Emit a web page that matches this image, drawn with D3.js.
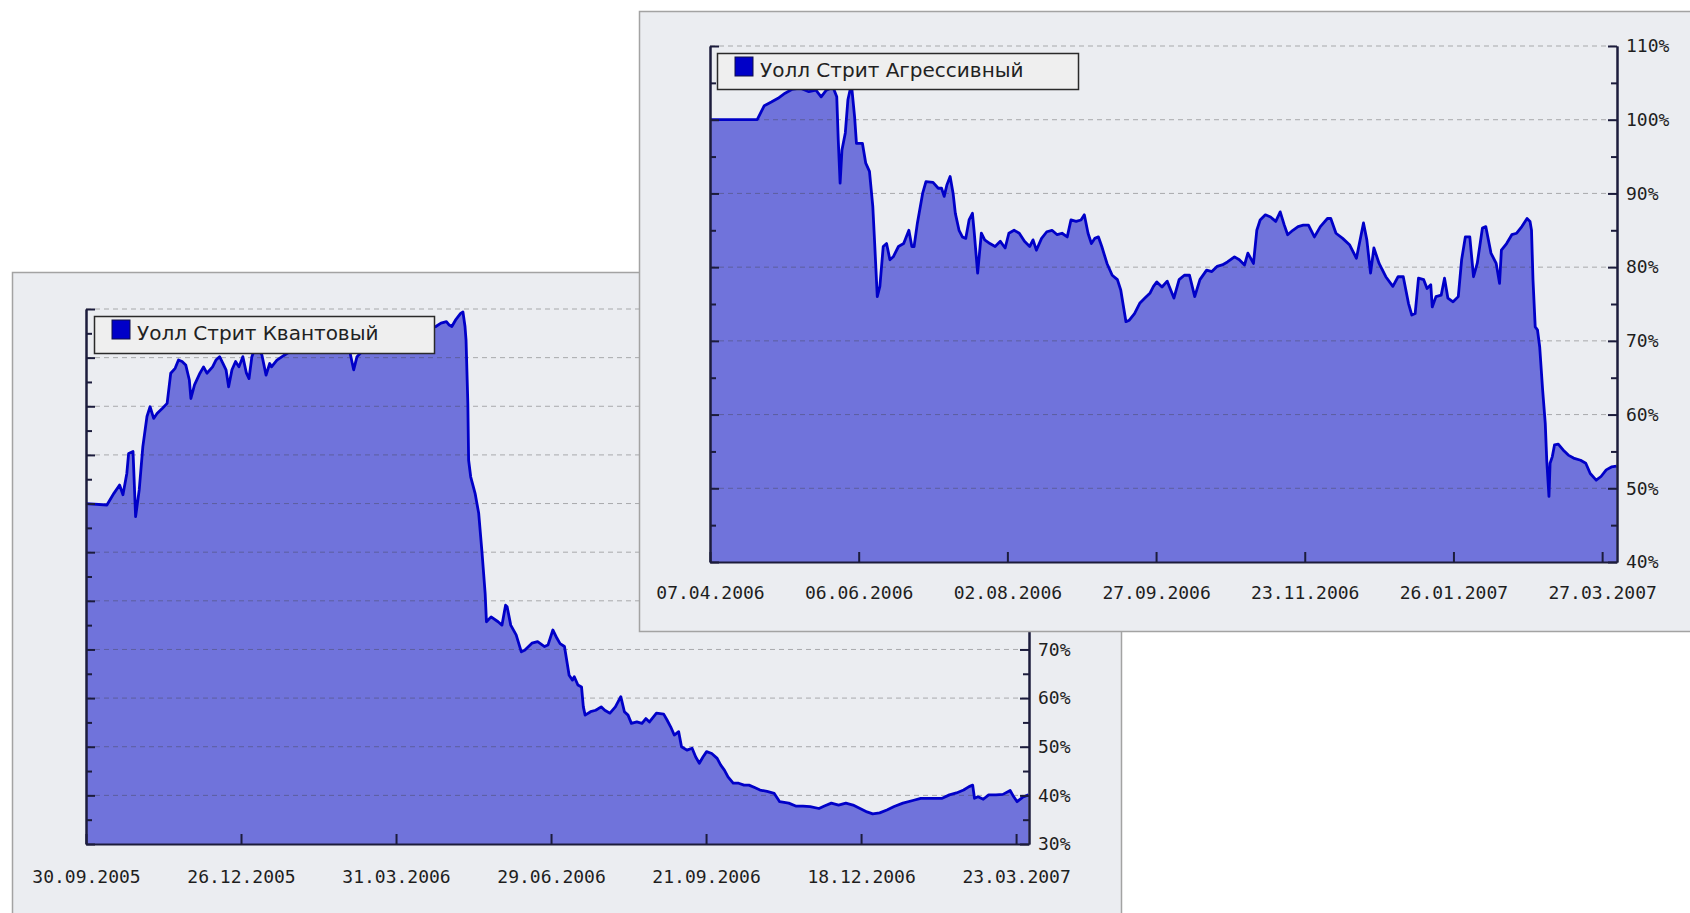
<!DOCTYPE html>
<html>
<head>
<meta charset="utf-8">
<script src="https://cdnjs.cloudflare.com/ajax/libs/d3/7.8.5/d3.min.js"></script>
<style>
  body { margin: 0; background: #fff; }
  svg { display: block; }
</style>
</head>
<body>
<div id="chart"></div>
<script>
(function () {

  // "Уолл Стрит Квантовый": trading-day index and value in %
  var quantDay = [0, 8.1, 10.8, 13.0, 14.3, 15.8, 16.5, 18.2, 19.2, 20.6, 22.0, 23.6, 24.8, 26.2, 27.5, 29.6,
    31.4, 32.8, 34.5, 35.8, 37.2, 38.6, 40.0, 40.6, 42.0, 44.1, 45.5, 46.8, 49.0, 50.3, 51.7, 53.0,
    54.2, 55.2, 56.5, 57.9, 59.2, 60.7, 62.1, 63.1, 64.2, 64.9, 66.6, 68.1, 69.7, 71.1, 71.8, 73.9,
    75.9, 77.3, 82.8, 90.6, 98.3, 102.2, 103.6, 104.9, 109.9, 117.7, 125.4, 131.2, 135.4, 137.4, 139.5,
    140.6, 141.6, 143.0, 145.0, 145.9, 146.7, 147.1, 147.8, 148.1, 148.9, 150.6, 152.0, 153.3, 154.5,
    155.0, 156.8, 159.5, 161.0, 162.4, 163.0, 164.4, 166.5, 168.5, 169.9, 172.6, 174.8, 177.5, 178.8,
    180.7, 182.3, 183.5, 185.2, 187.0, 188.3, 189.0, 190.4, 191.8, 192.5, 193.2, 195.3, 197.3, 199.4,
    200.8, 202.8, 204.9, 207.0, 208.4, 209.8, 211.1, 213.2, 215.2, 216.7, 218.1, 220.8, 223.6, 224.9,
    226.3, 227.7, 229.4, 230.5, 232.6, 234.6, 236.0, 237.4, 238.8, 240.2, 242.2, 244.3, 245.7, 247.1,
    248.5, 250.5, 252.6, 254.7, 256.6, 258.8, 260.9, 263.6, 266.4, 268.5, 272.0, 274.7, 277.5, 280.3,
    283.7, 285.8, 288.5, 291.3, 294.1, 296.9, 299.6, 302.3, 304.5, 307.2, 310.0, 312.8, 316.2, 320.4,
    323.1, 327.3, 331.4, 334.2, 336.9, 339.7, 341.8, 343.2, 343.9, 345.3, 347.3, 349.4, 352.2, 354.9,
    357.7, 359.1, 360.4, 362.5, 364.8]
  var quantPct = [100.0, 99.7, 102.1, 103.8, 101.8, 106.2, 110.3, 110.7, 97.3, 102.8, 111.7, 117.9, 119.9, 117.5, 118.5, 119.6,
    120.6, 126.8, 127.8, 129.5, 129.2, 128.5, 125.4, 121.6, 124.4, 126.8, 128.1, 126.8, 128.1, 129.5, 130.2, 128.8,
    127.5, 124.0, 127.5, 129.2, 128.1, 130.2, 126.8, 125.7, 130.2, 131.2, 132.0, 130.5, 126.4, 128.8, 128.1, 129.5,
    130.2, 130.7, 132.5, 133.5, 132.0, 131.0, 127.5, 130.2, 133.0, 134.5, 135.0, 136.0, 136.4, 137.1, 137.4,
    136.7, 136.4, 137.7, 139.1, 139.4, 136.4, 133.6, 120.6, 108.9, 105.5, 102.1, 98.0, 89.8, 81.5,
    75.7, 76.7, 75.7, 75.0, 79.1, 78.8, 75.0, 73.0, 69.5, 69.9, 71.3, 71.6, 70.6, 70.9,
    74.0, 72.3, 71.2, 70.6, 64.7, 63.7, 64.4, 62.7, 62.3, 58.2, 56.5, 57.2, 57.5, 58.2,
    57.5, 56.9, 58.2, 60.3, 57.2, 56.5, 54.8, 55.1, 54.8, 55.8, 55.1, 56.9, 56.7, 55.5,
    54.1, 52.4, 53.1, 50.0, 49.3, 49.7, 47.9, 46.6, 47.9, 49.0, 48.6, 47.6, 46.2, 45.2,
    43.8, 42.5, 42.5, 42.1, 42.1, 41.6, 41.1, 40.8, 40.4, 38.7, 38.4, 37.8, 37.8, 37.7,
    37.3, 37.8, 38.4, 38.0, 38.4, 38.0, 37.3, 36.6, 36.2, 36.4, 37.0, 37.7, 38.4, 39.0,
    39.4, 39.4, 39.4, 40.1, 40.5, 41.1, 41.8, 42.1, 39.4, 39.7, 39.2, 40.1, 40.1, 40.2,
    41.0, 39.7, 38.7, 39.6, 40.1]

  // "Уолл Стрит Агрессивный"
  var aggrDay = [0, 12.7, 14.6, 16.5, 18.3, 20.2, 22.0, 24.2, 26.6, 28.5, 29.9, 31.3, 33.1, 34.1, 34.5, 35.0,
    35.5, 36.4, 37.1, 37.8, 38.2, 38.9, 39.4, 41.0, 41.9, 42.9, 43.8, 44.3, 45.0, 45.7, 46.6, 47.5,
    48.4, 49.3, 50.7, 52.1, 53.5, 54.3, 54.9, 55.8, 57.2, 58.1, 60.0, 61.4, 62.3, 63.0, 63.7, 64.6,
    65.4, 66.0, 67.0, 67.9, 68.8, 69.7, 70.6, 71.1, 72.0, 73.0, 73.9, 75.3, 76.7, 78.1, 79.4, 80.4,
    81.8, 83.2, 84.6, 86.0, 86.9, 87.8, 89.2, 90.6, 92.0, 93.4, 94.7, 96.1, 97.1, 98.5, 99.8, 100.7,
    101.7, 102.6, 103.5, 104.5, 105.4, 106.8, 108.2, 109.6, 110.5, 111.9, 112.8, 114.2, 115.6, 117.0,
    118.4, 119.3, 120.2, 121.6, 123.0, 124.8, 126.2, 127.6, 129.0, 130.4, 131.8, 133.6, 135.0, 136.4,
    137.8, 139.2, 141.1, 142.4, 143.8, 144.7, 146.2, 147.1, 148.0, 149.4, 150.8, 152.2, 153.4, 154.5,
    155.4, 156.8, 158.2, 159.6, 161.0, 162.6, 164.2, 166.1, 167.0, 168.4, 170.2, 172.1, 173.9, 175.8,
    176.7, 177.7, 178.6, 180.0, 181.8, 183.7, 185.1, 186.5, 187.9, 188.8, 189.7, 190.6, 192.0, 192.9,
    193.9, 194.3, 195.3, 196.7, 197.6, 198.5, 199.9, 201.3, 202.2, 203.2, 204.4, 205.4, 206.4, 207.8,
    208.7, 210.1, 211.5, 212.4, 212.9, 214.3, 215.7, 217.0, 218.4, 219.8, 220.6, 221.0, 221.4, 222.0,
    222.6, 223.2, 224.0, 224.7, 225.1, 225.7, 226.0, 226.6, 227.2, 228.2, 229.5, 230.9, 232.3, 234.2,
    235.6, 236.8, 238.4, 239.7, 241.1, 242.5, 243.9]
  var aggrPct = [100.0, 100.0, 101.9, 102.4, 102.9, 103.6, 104.1, 104.3, 103.8, 104.0, 103.1, 104.0, 104.4, 103.1, 97.3, 91.4,
    95.9, 98.2, 102.7, 104.3, 104.0, 100.4, 96.8, 96.8, 94.1, 93.0, 88.2, 83.2, 76.0, 77.4, 82.8, 83.2,
    81.0, 81.4, 82.8, 83.2, 85.0, 82.8, 82.8, 86.0, 90.0, 91.6, 91.5, 90.7, 90.7, 89.6, 91.1, 92.3,
    90.0, 87.3, 85.0, 84.1, 83.9, 86.4, 87.3, 84.6, 79.2, 84.6, 83.7, 83.2, 82.8, 83.5, 82.6, 84.6,
    85.0, 84.6, 83.5, 82.8, 83.7, 82.3, 83.9, 84.8, 85.0, 84.4, 84.6, 84.1, 86.4, 86.2, 86.4, 87.1,
    84.6, 83.2, 83.9, 84.1, 82.8, 80.5, 78.9, 78.3, 76.9, 72.6, 72.8, 73.7, 75.1, 75.8,
    76.5, 77.4, 78.0, 77.3, 78.1, 75.8, 78.3, 78.9, 78.9, 76.0, 78.3, 79.6, 79.4, 80.1,
    80.3, 80.7, 81.4, 81.0, 80.3, 81.9, 80.5, 85.0, 86.4, 87.1, 86.8, 86.2, 87.5, 85.7,
    84.4, 85.0, 85.5, 85.7, 85.7, 84.1, 85.5, 86.6, 86.6, 84.6, 83.9, 83.0, 81.2, 86.0,
    83.7, 79.2, 82.6, 80.5, 78.7, 77.4, 78.7, 78.7, 75.1, 73.5, 73.7, 78.5, 78.3, 77.1,
    77.6, 74.6, 76.0, 76.2, 78.5, 75.8, 75.3, 76.0, 81.0, 84.1, 84.1, 78.7, 80.5, 85.3,
    85.5, 81.9, 80.5, 77.8, 82.3, 83.2, 84.4, 84.6, 85.5, 86.6, 86.2, 85.0, 78.3, 71.9,
    71.5, 69.2, 63.3, 58.8, 53.8, 48.9, 53.4, 54.3, 55.9, 56.0, 55.2, 54.5, 54.1, 53.8,
    53.4, 52.0, 51.1, 51.6, 52.5, 52.9, 53.0]

  var quantDates = ["30.09.2005", "26.12.2005", "31.03.2006", "29.06.2006", "21.09.2006", "18.12.2006", "23.03.2007"]
  var aggrDates = ["07.04.2006", "06.06.2006", "02.08.2006", "27.09.2006", "23.11.2006", "26.01.2007", "27.03.2007"]

  var quantTicks = [30, 40, 50, 60, 70, 80, 90, 100, 110, 120, 130, 140]
  var aggrTicks = [40, 50, 60, 70, 80, 90, 100, 110]

  // the Квантовый window sits under the other one: its labels above 70% are covered
  var charts = [
    { name: "Уолл Стрит Квантовый", day: quantDay, pct: quantPct, dates: quantDates, ticks: quantTicks,
      dateStep: 60, dayMax: 365, labelPad: 26, labelMax: 70,
      box: { x: 12, y: 272, w: 1109, h: 700 },
      plot: { l: 86, r: 1029, t: 309, b: 844 },
      legend: { x: 94, y: 316, w: 340, h: 37 } },
    { name: "Уолл Стрит Агрессивный", day: aggrDay, pct: aggrPct, dates: aggrDates, ticks: aggrTicks,
      dateStep: 40, dayMax: 244, labelPad: 24, labelMax: 110,
      box: { x: 639, y: 11, w: 1100, h: 620 },
      plot: { l: 710, r: 1617, t: 46, b: 562 },
      legend: { x: 717, y: 53, w: 361, h: 36 } }
  ]

  var axisColor = "#1c1c3c"
  var monoFont = "'DejaVu Sans Mono', monospace"

  var svg = d3.select("#chart").append("svg")
    .attr("width", 1690)
    .attr("height", 913)

  charts.forEach(draw)

  function draw(c) {
    var g = svg.append("g")

    g.append("rect")
      .attr("x", c.box.x + 0.5)
      .attr("y", c.box.y + 0.5)
      .attr("width", c.box.w)
      .attr("height", c.box.h)
      .attr("fill", "#ebedf1")
      .attr("stroke", "#a3a3a3")
      .attr("stroke-width", 1.5)

    var x = d3.scaleLinear()
      .domain([0, c.dayMax])
      .range([c.plot.l, c.plot.r])

    var yMin = c.ticks[0], yMax = c.ticks[c.ticks.length - 1]
    var y = d3.scaleLinear()
      .domain([yMin, yMax])
      .range([c.plot.b, c.plot.t])

    var points = c.day.map(function (d, i) { return [d, c.pct[i]] })

    var area = d3.area()
      .x(function (d) { return x(d[0]) })
      .y0(y(yMin))
      .y1(function (d) { return y(d[1]) })

    g.append("path")
      .datum(points)
      .attr("d", area)
      .attr("fill", "#7073db")

    // dashed grid, drawn over the fill
    g.selectAll(".grid")
      .data(c.ticks.slice(1))
      .enter().append("line")
      .attr("x1", c.plot.l)
      .attr("x2", c.plot.r)
      .attr("y1", function (d) { return y(d) })
      .attr("y2", function (d) { return y(d) })
      .attr("stroke", "#3c3c3c")
      .attr("stroke-opacity", 0.38)
      .attr("stroke-dasharray", "5,4")

    var line = d3.line()
      .x(function (d) { return x(d[0]) })
      .y(function (d) { return y(d[1]) })

    g.append("path")
      .datum(points)
      .attr("d", line)
      .attr("fill", "none")
      .attr("stroke", "#0000c8")
      .attr("stroke-width", 2.8)
      .attr("stroke-linejoin", "round")

    var step = c.ticks[1] - c.ticks[0]
    var minor = c.ticks.slice(0, -1).map(function (t) { return t + step / 2 })

    var axes = [
      { a: d3.axisLeft(y).tickValues(c.ticks).tickSizeInner(-9), at: "translate(" + c.plot.l + ",0)" },
      { a: d3.axisLeft(y).tickValues(minor).tickSizeInner(-6), at: "translate(" + c.plot.l + ",0)" },
      { a: d3.axisRight(y).tickValues(minor).tickSizeInner(-6), at: "translate(" + c.plot.r + ",0)" },
      { a: d3.axisRight(y).tickValues(c.ticks).tickSizeInner(-9).tickPadding(9)
          .tickFormat(function (d) { return d <= c.labelMax ? d + "%" : "" }),
        at: "translate(" + c.plot.r + ",0)", text: true },
      { a: d3.axisBottom(x).tickValues(d3.range(0, c.dayMax, c.dateStep)).tickSizeInner(-10)
          .tickPadding(c.labelPad).tickFormat(function (d, i) { return c.dates[i] }),
        at: "translate(0," + c.plot.b + ")", text: true }
    ]

    axes.forEach(function (ax) {
      ax.a.tickSizeOuter(0)
      if (!ax.text) ax.a.tickFormat("")
      var ag = g.append("g")
        .attr("transform", ax.at)
        .style("color", axisColor)
        .call(ax.a)
      // d3 sets its own font on the axis group, so override after the call
      ag.attr("font-family", monoFont)
        .attr("font-size", 18)
      ag.selectAll("path, line").attr("stroke-width", 2)
      ag.selectAll("text").attr("fill", "#1e1e1e")
      ag.selectAll("text").filter(function () { return this.textContent === "" }).remove()
    })

    // legend
    var lg = g.append("g")
    lg.append("rect")
      .attr("x", c.legend.x + 0.5)
      .attr("y", c.legend.y + 0.5)
      .attr("width", c.legend.w)
      .attr("height", c.legend.h)
      .attr("fill", "#efefef")
      .attr("stroke", "#2a2a2a")
      .attr("stroke-width", 1.5)
    lg.append("rect")
      .attr("x", c.legend.x + 18)
      .attr("y", c.legend.y + 4)
      .attr("width", 18)
      .attr("height", 19)
      .attr("fill", "#0000c8")
      .attr("stroke", "#10104a")
    lg.append("text")
      .attr("x", c.legend.x + 43)
      .attr("y", c.legend.y + 24)
      .attr("font-family", "'DejaVu Sans', sans-serif")
      .attr("font-size", 20)
      .attr("fill", "#222")
      .text(c.name)
  }

})()
</script>
</body>
</html>
